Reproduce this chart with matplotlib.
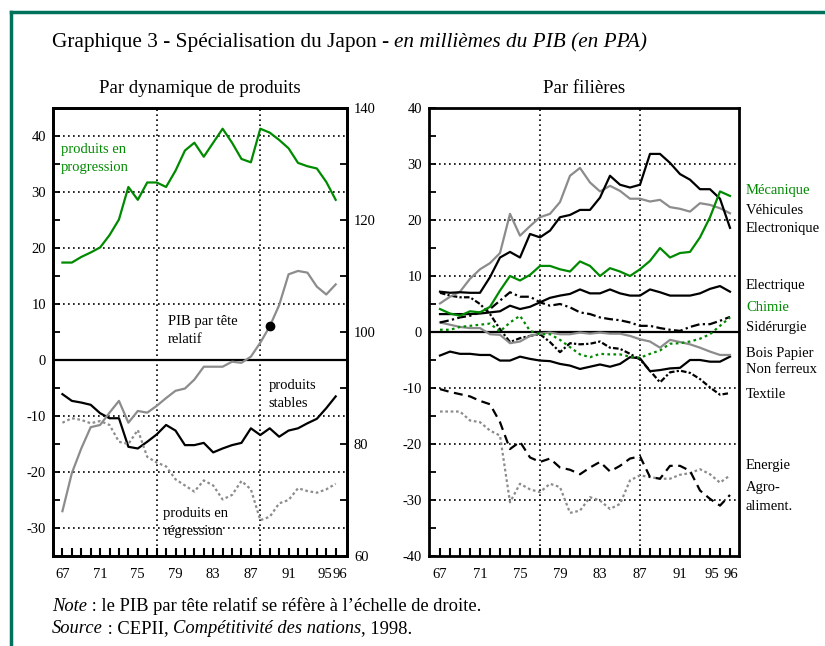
import matplotlib
matplotlib.use("Agg")
import matplotlib.pyplot as plt
import numpy as np

SERIF = "Liberation Serif"
GREEN = "#008a00"
GRAY = "#8c8c8c"
FRAME = "#00715a"

years = list(range(67, 97))

# left panel: par dynamique de produits (left scale)
progression = [17.4, 17.4, 18.4, 19.2, 20.1, 22.3, 25.1, 30.9, 28.6, 31.7,
               31.7, 30.9, 33.8, 37.4, 38.8, 36.3, 38.8, 41.3, 38.8, 35.9,
               35.3, 41.3, 40.6, 39.3, 37.8, 35.2, 34.6, 34.2, 31.8, 28.6]
stables = [-6.1, -7.3, -7.6, -8.0, -9.5, -10.4, -10.4, -15.5, -15.8, -14.6,
           -13.3, -11.6, -12.6, -15.2, -15.2, -14.8, -16.5, -15.8, -15.2, -14.8,
           -12.2, -13.4, -12.2, -13.7, -12.6, -12.2, -11.3, -10.5, -8.6, -6.5]
regression = [-11.2, -10.4, -10.7, -11.3, -10.9, -11.6, -14.6, -15.0, -12.5, -17.3,
              -18.3, -19.0, -21.3, -22.4, -23.5, -21.5, -22.4, -24.9, -24.1, -21.6,
              -23.1, -28.6, -28.0, -25.6, -25.0, -22.9, -23.4, -23.7, -23.1, -22.1]
# PIB par tete relatif (right scale)
pib = [68.0, 74.8, 79.2, 83.0, 83.4, 85.6, 87.7, 83.8, 85.9, 85.6,
       86.8, 88.2, 89.5, 89.9, 91.5, 93.8, 93.8, 93.8, 94.7, 94.5,
       95.6, 98.1, 101.0, 104.8, 110.3, 110.9, 110.6, 108.1, 106.7, 108.5]
pib_mark_year = 89

# right panel: par filieres
mecanique = [4.1, 3.3, 2.9, 3.7, 3.5, 4.5, 7.4, 10.0, 9.2, 10.2,
             11.8, 11.8, 11.2, 10.8, 12.6, 11.8, 10.0, 11.4, 10.8, 10.0,
             11.2, 12.7, 15.0, 13.3, 14.1, 14.3, 16.9, 20.5, 25.1, 24.3]
vehicules = [5.1, 6.3, 7.2, 9.5, 11.2, 12.3, 14.1, 21.1, 17.2, 18.9,
             20.5, 21.1, 23.2, 27.9, 29.3, 26.7, 25.1, 26.1, 25.2, 23.8,
             23.8, 23.3, 23.6, 22.3, 22.0, 21.5, 23.0, 22.7, 22.1, 21.2]
electronique = [7.2, 7.0, 7.1, 7.0, 7.0, 9.8, 13.3, 14.3, 13.3, 17.5,
                16.9, 18.1, 20.5, 20.9, 21.8, 21.8, 24.0, 27.9, 26.3, 25.8,
                26.3, 31.8, 31.8, 30.2, 28.2, 27.2, 25.5, 25.5, 23.8, 18.6]
electrique = [3.2, 3.2, 3.2, 3.2, 3.3, 3.5, 3.7, 4.7, 4.1, 4.5,
              5.3, 6.1, 6.5, 6.8, 7.6, 6.9, 6.9, 7.6, 6.9, 6.5,
              6.5, 7.6, 7.1, 6.5, 6.5, 6.5, 6.9, 7.7, 8.2, 7.2]
chimie = [0.4, 0.4, 0.9, 1.1, 1.3, 1.5, 0.1, 1.7, 2.9, 0.2,
          -0.4, -0.4, -1.4, -2.7, -4.0, -4.5, -3.9, -4.0, -4.0, -4.4,
          -4.6, -3.9, -3.3, -2.1, -2.0, -1.7, -1.2, -0.4, 1.1, 2.6]
siderurgie = [1.7, 2.1, 2.6, 2.9, 3.5, 4.1, 5.6, 7.1, 6.3, 6.3,
              5.3, 4.7, 5.0, 4.4, 3.5, 3.2, 2.6, 2.3, 2.1, 1.7,
              1.1, 1.1, 0.7, 0.4, 0.2, 0.9, 1.4, 1.4, 2.0, 2.7]
bois_papier = [1.7, 1.3, 0.9, 0.7, 0.7, -0.4, -0.5, -2.0, -1.7, -0.7,
               -0.3, -0.1, -0.4, -0.4, -0.1, -0.3, -0.1, -0.3, -0.3, -0.7,
               -1.3, -1.7, -2.8, -1.4, -1.8, -2.2, -2.8, -3.5, -4.1, -4.1]
non_ferreux = [-4.2, -3.5, -3.9, -3.9, -4.1, -4.1, -5.1, -5.1, -4.4, -4.8,
               -5.1, -5.2, -5.7, -6.0, -6.6, -6.2, -5.8, -6.2, -5.7, -4.5,
               -4.7, -7.0, -6.8, -6.5, -6.4, -5.0, -5.0, -5.3, -5.3, -4.4]
textile = [7.0, 6.5, 6.2, 6.2, 5.0, 3.2, 0.5, -1.8, -1.1, -0.7,
           -0.4, -1.8, -3.6, -2.0, -2.2, -2.1, -1.7, -2.8, -3.0, -3.9,
           -4.9, -6.9, -9.0, -7.2, -6.9, -7.3, -8.4, -9.9, -11.2, -10.9]
energie = [-10.2, -10.7, -11.1, -11.5, -12.3, -12.9, -16.1, -20.9, -19.6, -22.4,
           -23.2, -22.6, -24.2, -24.6, -25.4, -24.2, -23.2, -24.9, -23.9, -22.6,
           -22.2, -25.9, -26.2, -23.9, -23.9, -24.8, -28.3, -29.8, -31.0, -29.1]
agro = [-14.2, -14.2, -14.2, -15.8, -16.1, -17.6, -18.5, -30.4, -27.1, -28.1,
        -28.6, -27.1, -27.7, -32.3, -31.9, -29.5, -30.1, -31.6, -30.7, -26.5,
        -25.6, -25.9, -26.2, -26.2, -25.5, -25.2, -24.5, -25.4, -26.9, -25.6]

year_labels = ["67", "71", "75", "79", "83", "87", "91"]
end_labels = ["95", "96"]
right_labels = [("Mécanique", 190, GREEN), ("Véhicules", 210, "black"),
                ("Electronique", 228, "black"), ("Electrique", 285, "black"),
                ("Chimie", 308, GREEN), ("Sidérurgie", 327, "black"),
                ("Bois Papier", 353, "black"), ("Non ferreux", 370, "black"),
                ("Textile", 395, "black"), ("Energie", 465, "black"),
                ("Agro-", 487, "black"), ("aliment.", 507, "black")]

W, H = 825, 646
XPAD = 9  # points between bottom spine and year labels


def fx(x):
    return x / W


def fy(y):
    return 1 - y / H


def style_axes(ax, ylim, ymajor, yminor, xlim, vgrid, shifts):
    ax.set_xlim(*xlim)
    ax.set_ylim(*ylim)
    for s in ax.spines.values():
        s.set_linewidth(2)
    ax.set_yticks(yminor, minor=True)
    ax.set_yticks(ymajor)
    ax.set_yticklabels([str(v) for v in ymajor], fontsize=10.5, family=SERIF)
    ax.set_xticks(years)
    ax.set_xticklabels([str(y) if str(y) in year_labels else "" for y in years],
                       fontsize=10.5, family=SERIF)
    # 95 and 96 are written by hand, nudged apart as in the original
    for lab, dx in zip(end_labels, shifts):
        ax.annotate(lab, xy=(int(lab), 0), xycoords=("data", "axes fraction"),
                    xytext=(dx, -XPAD * 100 / 72), textcoords="offset pixels",
                    ha="center", va="top", fontsize=10.5, family=SERIF)
    ax.tick_params(axis="x", direction="in", length=6, width=1.5, pad=XPAD, top=False)
    ax.tick_params(axis="y", which="both", direction="in", length=5, width=1.3,
                   right=False, pad=5)
    for v in ymajor:
        if v == 0:
            ax.axhline(0, color="black", lw=1.6, zorder=1)
        elif ylim[0] < v < ylim[1]:
            ax.axhline(v, color="black", lw=1.2, ls=(0, (1, 2)), zorder=1)
    for v in vgrid:
        ax.axvline(v, color="black", lw=1.2, ls=(0, (1, 2)), zorder=1)


def pieces(fig, x, y, parts, size):
    renderer = fig.canvas.get_renderer()
    for s, st in parts:
        t = fig.text(x, y, s, fontsize=size, style=st, family=SERIF, va="baseline")
        x += t.get_window_extent(renderer).width / fig.bbox.width


fig = plt.figure(figsize=(W / 100, H / 100), dpi=100)

# ---- left panel
ax1 = fig.add_axes([fx(53), fy(556), fx(294), 448 / H])
style_axes(ax1, (-35, 45), list(range(-30, 41, 10)), list(range(-35, 46, 5)),
           (66.0, 97.2), [77, 88], (-1.5, 4))
lw = 1.6
ax1.plot(years, progression, color=GREEN, lw=lw)
ax1.plot(years, stables, color="black", lw=lw)
ax1.plot(years, regression, color=GRAY, lw=lw, ls=(0, (1.2, 1.2)))
ax2 = ax1.twinx()
ax2.set_ylim(60, 140)
ax2.plot(years, pib, color=GRAY, lw=lw)
ax2.plot([pib_mark_year], [pib[years.index(pib_mark_year)]], "o", color="black", ms=6)
ax2.set_yticks([60, 80, 100, 120, 140])
ax2.set_yticklabels(["60", "80", "100", "120", "140"], fontsize=10.5, family=SERIF)
ax2.set_yticks(list(range(60, 141, 10)), minor=True)
ax2.tick_params(axis="y", which="both", direction="in", length=5, width=1.3, pad=5)
for s in ax2.spines.values():
    s.set_linewidth(2)

lab_kw = dict(fontsize=10.5, family=SERIF, va="center", linespacing=1.5)
ax1.text(66.8, 35.9, "produits en\nprogression", color=GREEN, **lab_kw)
ax1.text(78.2, 5.3, "PIB par tête\nrelatif", color="black", **lab_kw)
ax1.text(88.9, -6.2, "produits\nstables", color="black", **lab_kw)
ax1.text(77.7, -29.1, "produits en\nrégression", color="black", **lab_kw)

# ---- right panel
ax3 = fig.add_axes([fx(429), fy(556), fx(310), 448 / H])
style_axes(ax3, (-40, 40), list(range(-40, 41, 10)), list(range(-40, 41, 5)),
           (65.9, 96.9), [77, 87], (-8, 1))
ax3.plot(years, agro, color=GRAY, lw=lw, ls=(0, (1.2, 1.2)))
ax3.plot(years, energie, color="black", lw=lw, ls=(0, (4, 2.5)))
ax3.plot(years, textile, color="black", lw=lw, ls=(0, (2.5, 1, 1, 1)))
ax3.plot(years, non_ferreux, color="black", lw=lw)
ax3.plot(years, bois_papier, color=GRAY, lw=lw)
ax3.plot(years, siderurgie, color="black", lw=lw, ls=(0, (4, 1.5, 1, 1.5)))
ax3.plot(years, chimie, color=GREEN, lw=lw, ls=(0, (1.2, 1.5)))
ax3.plot(years, electrique, color="black", lw=lw)
ax3.plot(years, vehicules, color=GRAY, lw=lw)
ax3.plot(years, electronique, color="black", lw=lw)
ax3.plot(years, mecanique, color=GREEN, lw=lw)

for name, ypx, col in right_labels:
    fig.text(fx(746), fy(ypx), name, color=col, fontsize=10.5, family=SERIF, va="center")

# ---- titles and notes
fig.text(fx(199.5), fy(93), "Par dynamique de produits", fontsize=13.5, family=SERIF,
         ha="center", va="baseline")
fig.text(fx(584), fy(93), "Par filières", fontsize=13.5, family=SERIF,
         ha="center", va="baseline")
pieces(fig, fx(52), fy(47), [("Graphique 3 - Spécialisation du Japon - ", "normal"),
                             ("en millièmes du PIB (en PPA)", "italic")], 15.3)
pieces(fig, fx(52), fy(611), [("Note", "italic"),
                              (" : le PIB par tête relatif se réfère à l\u2019échelle de droite.", "normal")], 13.3)
pieces(fig, fx(52), fy(633), [("Source", "italic"), (" : CEPII, ", "normal"),
                              ("Compétitivité des nations", "italic"), (", 1998.", "normal")], 13.3)

# green frame (top and left)
fig.add_artist(plt.Line2D([fx(11), 1.0], [fy(12), fy(12)], color=FRAME, lw=2.5))
fig.add_artist(plt.Line2D([fx(11), fx(11)], [fy(12), 0.0], color=FRAME, lw=2.5))

plt.savefig("out.png", dpi=100)
plt.close()
